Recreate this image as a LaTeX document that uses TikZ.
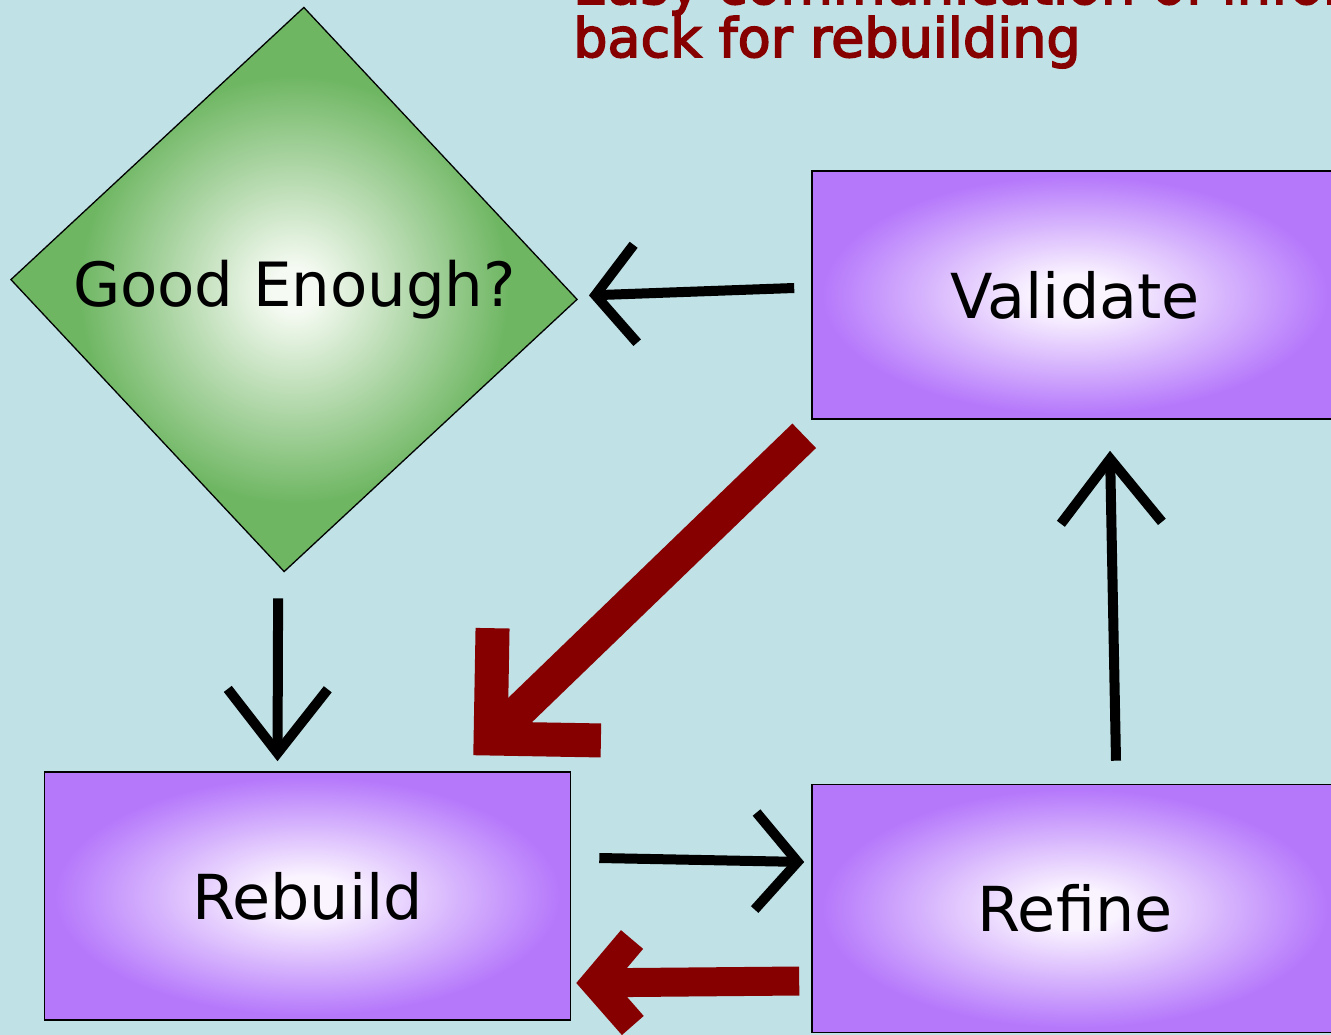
\documentclass[tikz,border=0pt]{standalone}
\usepackage{fontspec}
\setmainfont{DejaVu Sans}
\usetikzlibrary{shapes.geometric,arrows.meta,calc}
\definecolor{bgc}{RGB}{192,225,229}
\definecolor{pouter}{RGB}{181,120,251}
\definecolor{pinner}{RGB}{250,244,255}
\definecolor{gouter}{RGB}{110,182,98}
\definecolor{ginner}{RGB}{245,250,242}
\definecolor{dred}{RGB}{135,0,0}
\pgfdeclareradialshading{purpleglow}{\pgfpoint{0bp}{0bp}}{color(0bp)=(pinner); color(4bp)=(pinner); color(24bp)=(pouter); color(50bp)=(pouter)}
\pgfdeclareradialshading{greenglow}{\pgfpoint{0bp}{0bp}}{color(0bp)=(ginner); color(2bp)=(ginner); color(19bp)=(gouter); color(50bp)=(gouter)}
\newcommand{\outlinedtext}[1]{\special{pdf:literal 2 Tr 1.6 w}#1\special{pdf:literal 0 Tr}}
\begin{document}
\begin{tikzpicture}[x=1pt,y=-1pt,
  box/.style={draw=black,line width=1.6pt,shading=purpleglow,minimum width=526pt,minimum height=248pt,inner sep=0pt,font=\fontsize{62}{62}\selectfont},
  diamondbox/.style={diamond,draw=black,line width=1.3pt,shading=greenglow,minimum width=567pt,minimum height=565pt,inner sep=0pt,rotate=-2},
  labeltext/.style={inner sep=0pt,font=\fontsize{61}{61}\selectfont},
  toptext/.style={inner sep=0pt,text=dred,align=left,font=\fontsize{54}{53}\selectfont},
  blk/.style={draw=black,line width=10pt},
  redarr/.style={draw=dred}]
\useasboundingbox (0,0) rectangle (1331,1035);
\clip (0,0) rectangle (1331,1035);
\fill[bgc] (0,0) rectangle (1331,1035);
\node[diamondbox] (ge) at (294,289.5) {};
\node[labeltext,anchor=base] (getext) at (294.5,306) {Good Enough?};
\node[box] (val) at (1075,295) {Validate};
\node[box] (reb) at (307.5,896) {Rebuild};
\node[box] (ref) at (1075,908.5) {Refine};
\draw[blk,-{Straight Barb[length=40pt,width=98pt]}] ($(val.west)+(-17,-7)$) -- ($(ge.east)+(11,-4)$);
\draw[blk,-{Straight Barb[length=64pt,width=100pt]}] ($(ge.south)+(-6,26)$) -- ($(reb.north)+(-30,-10)$);
\draw[blk,-{Straight Barb[length=42pt,width=97pt]}] ($(reb.east)+(28,-38)$) -- ($(ref.west)+(-7,-46.5)$);
\draw[blk,-{Straight Barb[length=64pt,width=101pt]}] ($(ref.north)+(41,-23)$) -- ($(val.south)+(35,31)$);
\draw[redarr,line width=34pt,-{Straight Barb[length=78pt,width=156pt]}] ($(val.south west)+(-7,16)$) -- ($(reb.north east)+(-98,-16)$);
\draw[redarr,line width=29pt,-{Straight Barb[length=37pt,width=86pt]}] ($(ref.west)+(-12,72.5)$) -- ($(reb.east)+(5,87)$);
\node[toptext,anchor=base west] (note) at (573,57) {\outlinedtext{Easy communication of information}\\\outlinedtext{back for rebuilding}};
\end{tikzpicture}
\end{document}
